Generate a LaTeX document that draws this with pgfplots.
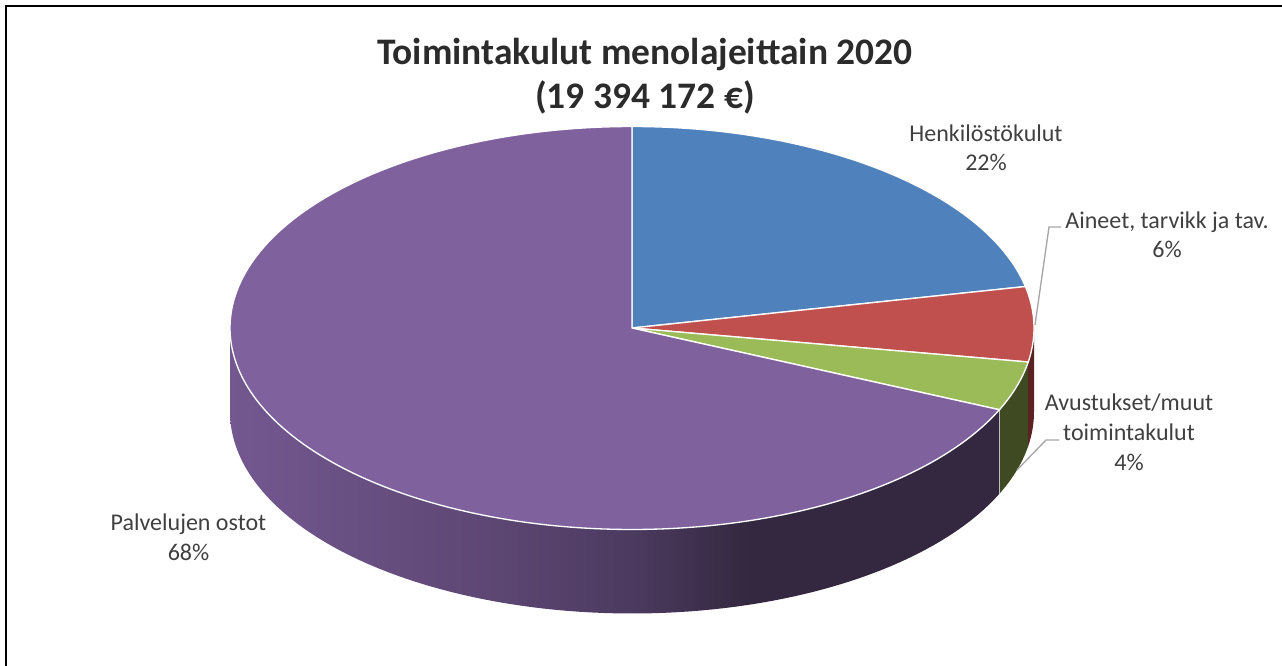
\documentclass[border=0pt]{standalone}
\usepackage{pgfplots}
\usepackage{pgfplotstable}
\usepackage{fontspec}
\setmainfont{Carlito}
\pgfplotsset{compat=1.18}
\definecolor{cBlue}{HTML}{4F81BD}
\definecolor{cRed}{HTML}{C0504D}
\definecolor{cGreen}{HTML}{9BBB59}
\definecolor{cPurple}{HTML}{7F619E}
\definecolor{cRedSide}{HTML}{5A2220}
\definecolor{cGreenSide}{HTML}{3F4A22}
\definecolor{cLabel}{HTML}{404040}
\definecolor{cTitle}{HTML}{2B2B2B}
\definecolor{cLead}{HTML}{A6A6A6}
\definecolor{sA}{HTML}{735890}
\definecolor{sB}{HTML}{5C4672}
\definecolor{sC}{HTML}{4C3A60}
\definecolor{sD}{HTML}{33283F}
\pgfdeclarehorizontalshading{sidepurple}{100bp}{
  color(0bp)=(sA);
  color(25bp)=(sA);
  color(42.5bp)=(sB);
  color(51bp)=(sC);
  color(58.8bp)=(sD);
  color(75bp)=(sD);
  color(100bp)=(sD)}
% share of each cost type, percent
\pgfplotstableread{
share name
21.7 Henkilostokulut
6.0 Aineet
3.95 Avustukset
68.35 Palvelujen
}\pietable
\newcommand\cx{632}
\newcommand\cy{328}
\newcommand\rx{402}
\newcommand\ry{201.5}
\newcommand\dep{84}
\begin{document}
\begin{tikzpicture}
\pgfplotstablegetelem{0}{share}\of\pietable\pgfmathsetmacro\va{\pgfplotsretval}
\pgfplotstablegetelem{1}{share}\of\pietable\pgfmathsetmacro\vb{\pgfplotsretval}
\pgfplotstablegetelem{2}{share}\of\pietable\pgfmathsetmacro\vc{\pgfplotsretval}
\pgfplotstablegetelem{3}{share}\of\pietable\pgfmathsetmacro\vd{\pgfplotsretval}
\pgfmathsetmacro\aA{90}
\pgfmathsetmacro\aB{\aA-3.6*\va}
\pgfmathsetmacro\aC{\aB-3.6*\vb}
\pgfmathsetmacro\aD{\aC-3.6*\vc}
\pgfmathsetmacro\aE{\aD-3.6*\vd}
\pgfmathsetmacro\xB{\cx+\rx*cos(\aB)}\pgfmathsetmacro\yB{\cy-\ry*sin(\aB)}
\pgfmathsetmacro\xC{\cx+\rx*cos(\aC)}\pgfmathsetmacro\yC{\cy-\ry*sin(\aC)}
\pgfmathsetmacro\xD{\cx+\rx*cos(\aD)}\pgfmathsetmacro\yD{\cy-\ry*sin(\aD)}
\pgfmathsetmacro\yDb{\yD+\dep}
\pgfmathsetmacro\yCb{\yC+\dep}
\pgfmathsetmacro\xL{\cx-\rx}
\pgfmathsetmacro\xR{\cx+\rx}
\begin{axis}[
  x=0.75pt,y=0.75pt,
  xmin=0,xmax=1282,ymin=0,ymax=666,
  y dir=reverse,
  hide axis,
  clip=false,
  scale only axis,
  samples=90,
  variable=\t,
]
\coordinate (bbA) at (axis cs:0,0);
\coordinate (bbB) at (axis cs:1282,666);
% frame (top and left only)
\addplot[black,line width=1.6pt,forget plot] coordinates {(6,666) (6,6) (1282,6)};
% side walls
\addplot[draw=none,shading=sidepurple,domain=-180:\aD] ({\cx+\rx*cos(t)},{\cy+\dep-\ry*sin(t)}) -- (axis cs:\xD,\yD) -- (axis cs:\xL,\cy) -- cycle;
\addplot[draw=none,fill=cGreenSide,domain=\aD:\aC,samples=20] ({\cx+\rx*cos(t)},{\cy+\dep-\ry*sin(t)}) -- (axis cs:\xC,\yC) -- (axis cs:\xD,\yD) -- cycle;
\addplot[draw=none,fill=cRedSide,domain=\aC:0,samples=20] ({\cx+\rx*cos(t)},{\cy+\dep-\ry*sin(t)}) -- (axis cs:\xR,\cy) -- (axis cs:\xC,\yC) -- cycle;
\addplot[color=white!75!black,line width=0.8pt] coordinates {(\xD,\yD) (\xD,\yDb)};
% top face
\addplot[draw=white,line width=1pt,fill=cBlue,domain=\aB:\aA] ({\cx+\rx*cos(t)},{\cy-\ry*sin(t)}) -- (axis cs:\cx,\cy) -- cycle;
\addplot[draw=white,line width=1pt,fill=cRed,domain=\aC:\aB,samples=30] ({\cx+\rx*cos(t)},{\cy-\ry*sin(t)}) -- (axis cs:\cx,\cy) -- cycle;
\addplot[draw=white,line width=1pt,fill=cGreen,domain=\aD:\aC,samples=30] ({\cx+\rx*cos(t)},{\cy-\ry*sin(t)}) -- (axis cs:\cx,\cy) -- cycle;
\addplot[draw=white,line width=1pt,fill=cPurple,domain=\aE:\aD,samples=180] ({\cx+\rx*cos(t)},{\cy-\ry*sin(t)}) -- (axis cs:\cx,\cy) -- cycle;
% leader lines
\addplot[cLead,line width=1pt] coordinates {(1035,325) (1049,227) (1061,227)};
\addplot[cLead,line width=1pt] coordinates {(1017,470) (1046,440) (1059,440)};
% title
\node[anchor=base,font=\fontsize{28.1}{28.1}\selectfont\bfseries,text=cTitle,inner sep=0pt] at (axis cs:645,65) {Toimintakulut menolajeittain 2020};
\node[anchor=base,font=\fontsize{28.1}{28.1}\selectfont\bfseries,text=cTitle,inner sep=0pt] at (axis cs:645,109) {(19 394 172 €)};
% labels
\tikzset{lab/.style={anchor=base,font=\fontsize{18}{18}\selectfont,text=cLabel,inner sep=0pt}}
\node[lab] at (axis cs:986,142) {Henkilöstökulut};
\node[lab] at (axis cs:986,171) {22\%};
\node[lab] at (axis cs:1167,229) {Aineet, tarvikk ja tav.};
\node[lab] at (axis cs:1167,258) {6\%};
\node[lab] at (axis cs:1129,411) {Avustukset/muut};
\node[lab] at (axis cs:1129,441) {toimintakulut};
\node[lab] at (axis cs:1129,470) {4\%};
\node[lab] at (axis cs:188.5,531) {Palvelujen ostot};
\node[lab] at (axis cs:188.5,561) {68\%};
\end{axis}
\pgfresetboundingbox
\useasboundingbox (bbA) rectangle (bbB);
\end{tikzpicture}
\end{document}
